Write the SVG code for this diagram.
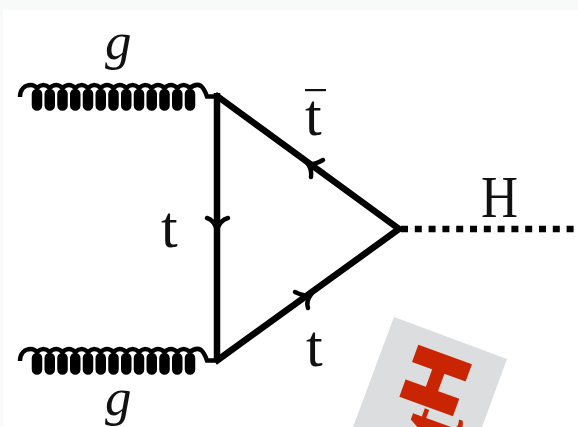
<svg xmlns="http://www.w3.org/2000/svg" width="578" height="427" viewBox="0 0 578 427">
<style>
.lbl{font-family:"Liberation Serif",serif;fill:#111}
.big{font-family:Roboto,"Liberation Sans",sans-serif;font-weight:900;fill:#c92503;stroke:#c92503}
.ln{fill:none;stroke:#000;stroke-width:6.5}
.arr{fill:none;stroke:#000;stroke-width:4.5;stroke-linecap:round}
.wave{fill:none;stroke:#000;stroke-width:4.5}
.lobe{fill:none;stroke:#000;stroke-width:10.5;stroke-linecap:round}
</style>
<defs>
<g id="coil">
<path class="lobe" d="M37,94V105.5M49.75,94V105.5M62.5,94V105.5M75.25,94V105.5M88,94V105.5M100.75,94V105.5M113.5,94V105.5M126.25,94V105.5M139,94V105.5M151.75,94V105.5M164.5,94V105.5M177.25,94V105.5M190,94V105.5"/>
<path class="wave" d="M20,97 C20,89 25,85 31,85 Q34,85 37,88 Q43.4,82 49.75,88 Q56,82 62.5,88 Q69,82 75.25,88 Q81.6,82 88,88 Q94.4,82 100.75,88 Q107,82 113.5,88 Q120,82 126.25,88 Q132.6,82 139,88 Q145.4,82 151.75,88 Q158,82 164.5,88 Q171,82 177.25,88 Q183.6,82 190,88 Q196,83 201,86 Q204,88 207,96.5 L218,96.5"/>
</g>
</defs>
<rect width="578" height="427" fill="#fff"/>
<rect width="578" height="10" fill="#f8f9f9"/>
<rect width="3" height="427" fill="#f8f9f9"/>
<g id="logo">
<polygon points="394,317 507,359 482,427 353,427" fill="#dcddde"/>
<text class="big" transform="translate(435.5,380.5) rotate(-70) scale(1.15,1)" y="27" text-anchor="middle" font-size="76" stroke-width="3">H</text>
<text transform="translate(454,449) rotate(-70)" font-family="Liberation Serif,serif" font-weight="700" font-size="90" fill="#c92503">t</text>
</g>
<g id="connectors">
<use href="#coil" id="gluon-top"/>
<use href="#coil" id="gluon-bottom" transform="translate(0,264)"/>
<path class="ln" d="M217,93 L217,362"/>
<path class="ln" d="M215,94.5 L399,229 L215,362"/>
<path d="M401,229 H578" fill="none" stroke="#000" stroke-width="6.5" stroke-dasharray="7 6.8"/>
<path class="arr" d="M207,218 Q214,220 217,230 Q220,220 228,218"/>
<path class="arr" d="M323,160 Q314,165 308,164 Q312,170 311,177"/>
<path class="arr" d="M295,292 Q303,296 310,296 Q306,302 308,308"/>
</g>
<g id="labels">
<text class="lbl" x="105" y="59" font-size="53" font-style="italic">g</text>
<text class="lbl" x="105" y="415" font-size="53" font-style="italic">g</text>
<text class="lbl" x="161" y="247" font-size="60">t</text>
<text class="lbl" x="305" y="135" font-size="60">t</text>
<rect x="305" y="89" width="21" height="2.2" fill="#111"/>
<text class="lbl" x="306" y="366" font-size="60">t</text>
<text class="lbl" x="481" y="216.5" font-size="60" textLength="37" lengthAdjust="spacingAndGlyphs">H</text>
</g>
</svg>
